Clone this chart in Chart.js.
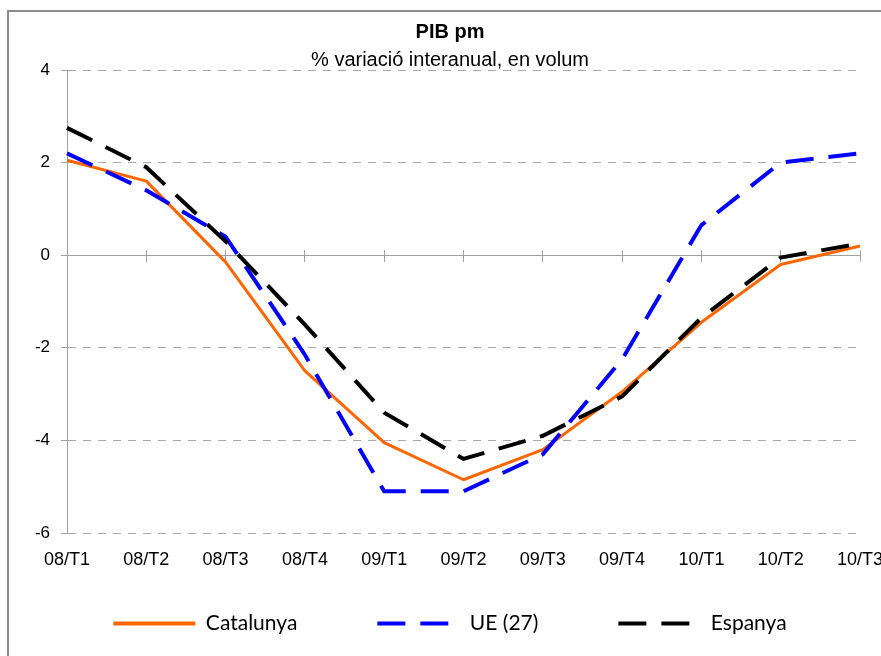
<!DOCTYPE html>
<html>
<head>
<meta charset="utf-8">
<script src="https://cdn.jsdelivr.net/npm/chart.js@4/dist/chart.umd.min.js"></script>
<style>
html, body { margin:0; padding:0; background:#fff; overflow:hidden; width:881px; height:656px; }
#frame { position:absolute; left:7px; top:10px; width:1200px; height:1200px; border:2px solid #8c8c8c; }
#c { position:absolute; left:0; top:0; }
</style>
</head>
<body>
<div id="frame"></div>
<canvas id="c" width="900" height="656"></canvas>
<script>
const categories = ['08/T1','08/T2','08/T3','08/T4','09/T1','09/T2','09/T3','09/T4','10/T1','10/T2','10/T3'];
const catalunya = [2.05, 1.6, -0.15, -2.5, -4.05, -4.85, -4.2, -2.95, -1.45, -0.2, 0.2];
const ue27      = [2.2, 1.4, 0.4, -2.15, -5.1, -5.1, -4.3, -2.25, 0.65, 2.0, 2.2];
const espanya   = [2.75, 1.9, 0.3, -1.5, -3.4, -4.4, -3.9, -3.05, -1.35, -0.05, 0.25];
const yTicks = [-6, -4, -2, 0, 2, 4];
const seriesNames = ['Catalunya', 'UE (27)', 'Espanya'];
const titleText = 'PIB pm';
const subtitleText = '% variació interanual, en volum';

const AXIS = '#a0a0a0';
const GRID = '#a8a8a8';

new Chart(document.getElementById('c'), {
  type: 'line',
  data: {
    labels: categories,
    datasets: [
      { label: seriesNames[0], data: catalunya, xAxisID: 'x', yAxisID: 'y',
        borderColor: '#FF6600', backgroundColor: '#FF6600', borderWidth: 3,
        pointRadius: 0, tension: 0, borderJoinStyle: 'round', order: 3 },
      { label: seriesNames[1], data: ue27, xAxisID: 'x', yAxisID: 'y',
        borderColor: '#0000FF', backgroundColor: '#0000FF', borderWidth: 4, borderDash: [28, 15],
        pointRadius: 0, tension: 0, order: 2 },
      { label: seriesNames[2], data: espanya, xAxisID: 'x', yAxisID: 'y',
        borderColor: '#000000', backgroundColor: '#000000', borderWidth: 4, borderDash: [28, 15],
        pointRadius: 0, tension: 0, order: 1 }
    ]
  },
  options: {
    responsive: false,
    animation: false,
    events: [],
    layout: { padding: { left: 0, right: 0, top: 0, bottom: 12 } },
    scales: {
      y: {
        position: 'left',
        min: -6, max: 4,
        afterBuildTicks: s => { s.ticks = yTicks.map(v => ({ value: v })); },
        ticks: { color: '#000', font: { family: 'Liberation Sans', size: 17 }, padding: 11 },
        grid: { color: GRID, lineWidth: 1, drawTicks: true, tickLength: 6, tickColor: AXIS },
        border: { display: true, color: AXIS, width: 1, dash: [8, 7] },
        afterFit: s => { s.width = 67; }
      },
      yR: {
        type: 'linear', position: 'right', display: true,
        ticks: { display: false }, grid: { display: false }, border: { display: false },
        afterFit: s => { s.width = 40; }
      },
      x: {
        type: 'category', position: { y: -6 }, offset: false,
        grid: { display: false, drawTicks: false },
        border: { display: false },
        ticks: { color: '#000', font: { family: 'Liberation Sans', size: 18 }, padding: 16,
                 maxRotation: 0, autoSkip: false }
      },
      x0: {
        type: 'category', axis: 'x', position: { y: 0 }, offset: false,
        ticks: { display: false },
        grid: { drawOnChartArea: false, drawTicks: true, tickLength: 6, tickColor: AXIS, color: AXIS },
        border: { display: true, color: AXIS, width: 1 }
      },
      x0b: {
        type: 'category', axis: 'x', position: { y: 0 }, offset: false,
        ticks: { display: false },
        grid: { drawOnChartArea: false, drawTicks: true, tickLength: -5, tickColor: AXIS, color: AXIS },
        border: { display: false }
      }
    },
    plugins: {
      tooltip: { enabled: false },
      title: { display: true, text: titleText, color: '#000',
               font: { family: 'Liberation Sans', size: 20, weight: 'bold', lineHeight: 1.2 },
               padding: { top: 20, bottom: 0 } },
      subtitle: { display: true, text: subtitleText, color: '#000',
               font: { family: 'Liberation Sans', size: 20, weight: 'normal', lineHeight: 1.0 },
               padding: { top: 6, bottom: 0 } },
      legend: {
        display: true, position: 'bottom',
        labels: {
          usePointStyle: true, pointStyle: 'line', pointStyleWidth: 82,
          padding: 80, color: '#000',
          font: { family: 'Lato', size: 21 },
          generateLabels: chart => chart.data.datasets.map((ds, i) => ({
            text: ds.label,
            fillStyle: ds.borderColor,
            strokeStyle: ds.borderColor,
            fontColor: '#000',
            lineWidth: ds.borderWidth === 3 ? 4 : ds.borderWidth,
            lineDash: ds.borderDash || [],
            lineDashOffset: 0,
            lineCap: 'butt',
            pointStyle: 'line',
            hidden: false,
            datasetIndex: i
          }))
        }
      }
    }
  }
});
</script>
</body>
</html>
